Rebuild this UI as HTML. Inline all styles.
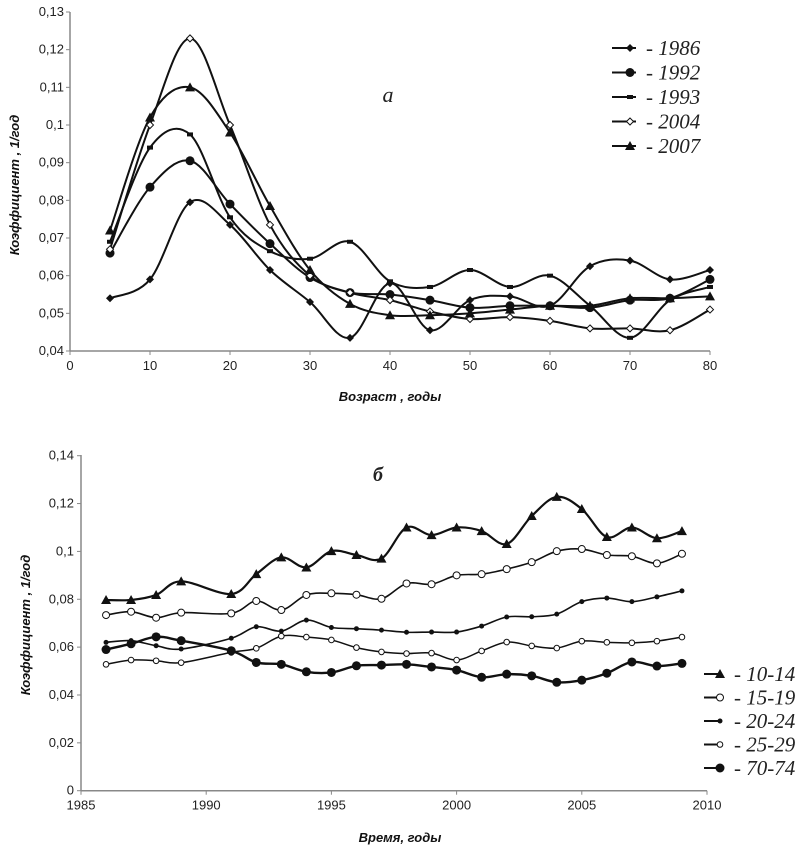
<!DOCTYPE html>
<html><head><meta charset="utf-8"><style>
body{margin:0;background:#fff}
svg{display:block;font-family:"Liberation Sans",sans-serif}
.tk{font-size:13px;fill:#222}
.ttl{font-size:13px;font-style:italic;font-weight:bold;fill:#111}
.lg{font-family:"Liberation Serif",serif;font-style:italic;font-size:21px;fill:#222}
</style></head><body>
<svg id="s" width="809" height="850" viewBox="0 0 809 850"></svg>
<script>
const ages=[5,10,15,20,25,30,35,40,45,50,55,60,65,70,75,80];
const s1986=[0.054,0.059,0.0795,0.0735,0.0615,0.053,0.0435,0.058,0.0455,0.0535,0.0545,0.052,0.0625,0.064,0.059,0.0615];
const s1992=[0.066,0.0835,0.0905,0.079,0.0685,0.0595,0.0555,0.055,0.0535,0.0515,0.052,0.052,0.0515,0.0535,0.054,0.059];
const s1993=[0.069,0.094,0.0975,0.0755,0.0665,0.0645,0.069,0.0585,0.057,0.0615,0.057,0.060,0.052,0.0435,0.0535,0.057];
const s2004=[0.067,0.100,0.123,0.100,0.0735,0.060,0.0555,0.0535,0.0505,0.0485,0.049,0.048,0.046,0.046,0.0455,0.051];
const s2007=[0.072,0.102,0.110,0.098,0.0785,0.0615,0.0525,0.0495,0.0495,0.050,0.051,0.052,0.052,0.054,0.054,0.0545];
const topXTicks=[0,10,20,30,40,50,60,70,80];
const topYTicks=[0.04,0.05,0.06,0.07,0.08,0.09,0.1,0.11,0.12,0.13];
const years=[1986,1987,1988,1989,1991,1992,1993,1994,1995,1996,1997,1998,1999,2000,2001,2002,2003,2004,2005,2006,2007,2008,2009];
const g1014=[0.0797,0.0797,0.0818,0.0875,0.0822,0.0905,0.0975,0.0933,0.1001,0.0985,0.097,0.110,0.1068,0.110,0.1085,0.1031,0.1148,0.1228,0.1177,0.106,0.110,0.1055,0.1085];
const g1519=[0.0734,0.0748,0.0723,0.0744,0.0741,0.0793,0.0755,0.0818,0.0825,0.0819,0.0802,0.0866,0.0863,0.090,0.0905,0.0926,0.0955,0.1001,0.101,0.0985,0.098,0.095,0.099];
const g2024=[0.062,0.0627,0.0606,0.0592,0.0637,0.0685,0.0667,0.0713,0.0682,0.0677,0.0671,0.0662,0.0663,0.0663,0.0688,0.0726,0.0727,0.0738,0.079,0.0805,0.079,0.081,0.0835];
const g2529=[0.0528,0.0546,0.0543,0.0535,0.0578,0.0595,0.0646,0.0642,0.063,0.0598,0.058,0.0573,0.0575,0.0546,0.0584,0.0621,0.0605,0.0596,0.0625,0.062,0.0618,0.0625,0.0642];
const g7074=[0.059,0.0614,0.0643,0.0627,0.0585,0.0536,0.0528,0.0497,0.0494,0.0522,0.0525,0.0528,0.0517,0.0504,0.0474,0.0487,0.048,0.0453,0.0462,0.0491,0.0538,0.0521,0.0532];
const botXTicks=[1985,1990,1995,2000,2005,2010];
const botYTicks=[0,0.02,0.04,0.06,0.08,0.1,0.12,0.14];
const topLabels=['1986','1992','1993','2004','2007'];
const botLabels=['10-14','15-19','20-24','25-29','70-74'];

const NS='http://www.w3.org/2000/svg';
const svg=document.getElementById('s');
function mk(t,a,p){const e=document.createElementNS(NS,t);for(const k in a)e.setAttribute(k,a[k]);(p||svg).appendChild(e);return e;}
const tx=v=>70+(v-0)*(640/80), ty=v=>351-(v-0.04)*(339/0.09);
const bx=v=>81+(v-1985)*(626/25), by=v=>790.7-v*(335/0.14);
function fmt(v){return (Math.round(v*100)/100).toString().replace('.',',');}
function spline(pts){let d='M'+pts[0][0]+','+pts[0][1];for(let i=0;i<pts.length-1;i++){const p0=pts[i-1]||pts[i],p1=pts[i],p2=pts[i+1],p3=pts[i+2]||p2;const c1=[p1[0]+(p2[0]-p0[0])/6,p1[1]+(p2[1]-p0[1])/6],c2=[p2[0]-(p3[0]-p1[0])/6,p2[1]-(p3[1]-p1[1])/6];d+=` C${c1[0]},${c1[1]} ${c2[0]},${c2[1]} ${p2[0]},${p2[1]}`;}return d;}
function marker(g,type,x,y){
 if(type==='diamond')return mk('path',{d:`M${x},${y-4}L${x+4},${y}L${x},${y+4}L${x-4},${y}Z`,fill:'#111'},g);
 if(type==='odiamond')return mk('path',{d:`M${x},${y-3.5}L${x+3.5},${y}L${x},${y+3.5}L${x-3.5},${y}Z`,fill:'#fff',stroke:'#111','stroke-width':1},g);
 if(type==='bigdot')return mk('circle',{cx:x,cy:y,r:4.5,fill:'#111'},g);
 if(type==='dash')return mk('rect',{x:x-3,y:y-2,width:6,height:4,fill:'#111'},g);
 if(type==='tri')return mk('path',{d:`M${x},${y-5}L${x+5},${y+4}L${x-5},${y+4}Z`,fill:'#111'},g);
 if(type==='ocircle')return mk('circle',{cx:x,cy:y,r:3.5,fill:'#fff',stroke:'#111','stroke-width':1},g);
 if(type==='sdot')return mk('circle',{cx:x,cy:y,r:2.5,fill:'#111'},g);
 if(type==='socircle')return mk('circle',{cx:x,cy:y,r:2.8,fill:'#fff',stroke:'#111','stroke-width':1},g);
}
function series(name,xs,ys,fx,fy,type,w){
 const g=mk('g',{});
 
 
 const pts=xs.map((x,i)=>[fx(x),fy(ys[i])]);
 mk('path',{d:spline(pts),fill:'none',stroke:'#111','stroke-width':w},g);
 pts.forEach(p=>marker(g,type,p[0],p[1]));
}
function axes(name,x0,x1,y0,y1,xt,yt,fx,fy,lblx){
 const g=mk('g',{});
 
 
 mk('line',{x1:x0,y1:y0,x2:x1,y2:y0,stroke:'#888','stroke-width':1.5},g);
 mk('line',{x1:x0,y1:y0,x2:x0,y2:y1,stroke:'#888','stroke-width':1.5},g);
 xt.forEach(v=>{const x=fx(v);mk('line',{x1:x,y1:y0,x2:x,y2:y0+4,stroke:'#888'},g);const t=mk('text',{x:x,y:y0+19,'text-anchor':'middle',class:'tk'},g);t.textContent=v;});
 yt.forEach(v=>{const y=fy(v);mk('line',{x1:x0-4,y1:y,x2:x0,y2:y,stroke:'#888'},g);const t=mk('text',{x:lblx,y:y+4,'text-anchor':'end',class:'tk'},g);t.textContent=fmt(v);});
}
axes('top-axes',70,710,351,12,topXTicks,topYTicks,tx,ty,64);
axes('bottom-axes',81,707,790.7,455,botXTicks,botYTicks,bx,by,74);
const tT=['diamond','bigdot','dash','odiamond','tri'];
[s1986,s1992,s1993,s2004,s2007].forEach((d,i)=>series('series-'+topLabels[i],ages,d,tx,ty,tT[i],2));
const bT=['tri','ocircle','sdot','socircle','bigdot'];
const bW=[2.2,1.6,1.6,1.5,2.4];
[g1014,g1519,g2024,g2529,g7074].forEach((d,i)=>series('series-'+botLabels[i],years,d,bx,by,bT[i],bW[i]));
// legends
topLabels.forEach((l,i)=>{const y=48+i*24.5;const g=mk('g',{});
 mk('line',{x1:612,y1:y,x2:636,y2:y,stroke:'#111','stroke-width':2},g);marker(g,tT[i],630,y);
 const t=mk('text',{x:646,y:y+7,class:'lg'},g);t.textContent='- '+l;});
botLabels.forEach((l,i)=>{const y=674+i*23.5;const g=mk('g',{});
 mk('line',{x1:704,y1:y,x2:720,y2:y,stroke:'#111','stroke-width':2},g);marker(g,bT[i],720,y);
 const t=mk('text',{x:734,y:y+7,class:'lg'},g);t.textContent='- '+l;});
function txt(name,s,a,cls){const t=mk('text',a);t.setAttribute('class',cls);t.textContent=s;return t;}
txt('top-y-axis-title','Коэффициент , 1/год',{x:0,y:0,transform:'translate(19,185) rotate(-90)','text-anchor':'middle'},'ttl');
txt('top-x-axis-title','Возраст , годы',{x:390,y:401,'text-anchor':'middle'},'ttl');
txt('bottom-y-axis-title','Коэффициент , 1/год',{x:0,y:0,transform:'translate(30,625) rotate(-90)','text-anchor':'middle'},'ttl');
txt('bottom-x-axis-title','Время, годы',{x:400,y:842,'text-anchor':'middle'},'ttl');
const a=txt('panel-label-a','а',{x:388,y:102,'text-anchor':'middle'},'lg');a.style.fontSize='22px';
const b=txt('panel-label-b','б',{x:378,y:481,'text-anchor':'middle'},'lg');b.style.fontSize='20px';b.style.fontWeight='bold';
</script>
</body></html>
